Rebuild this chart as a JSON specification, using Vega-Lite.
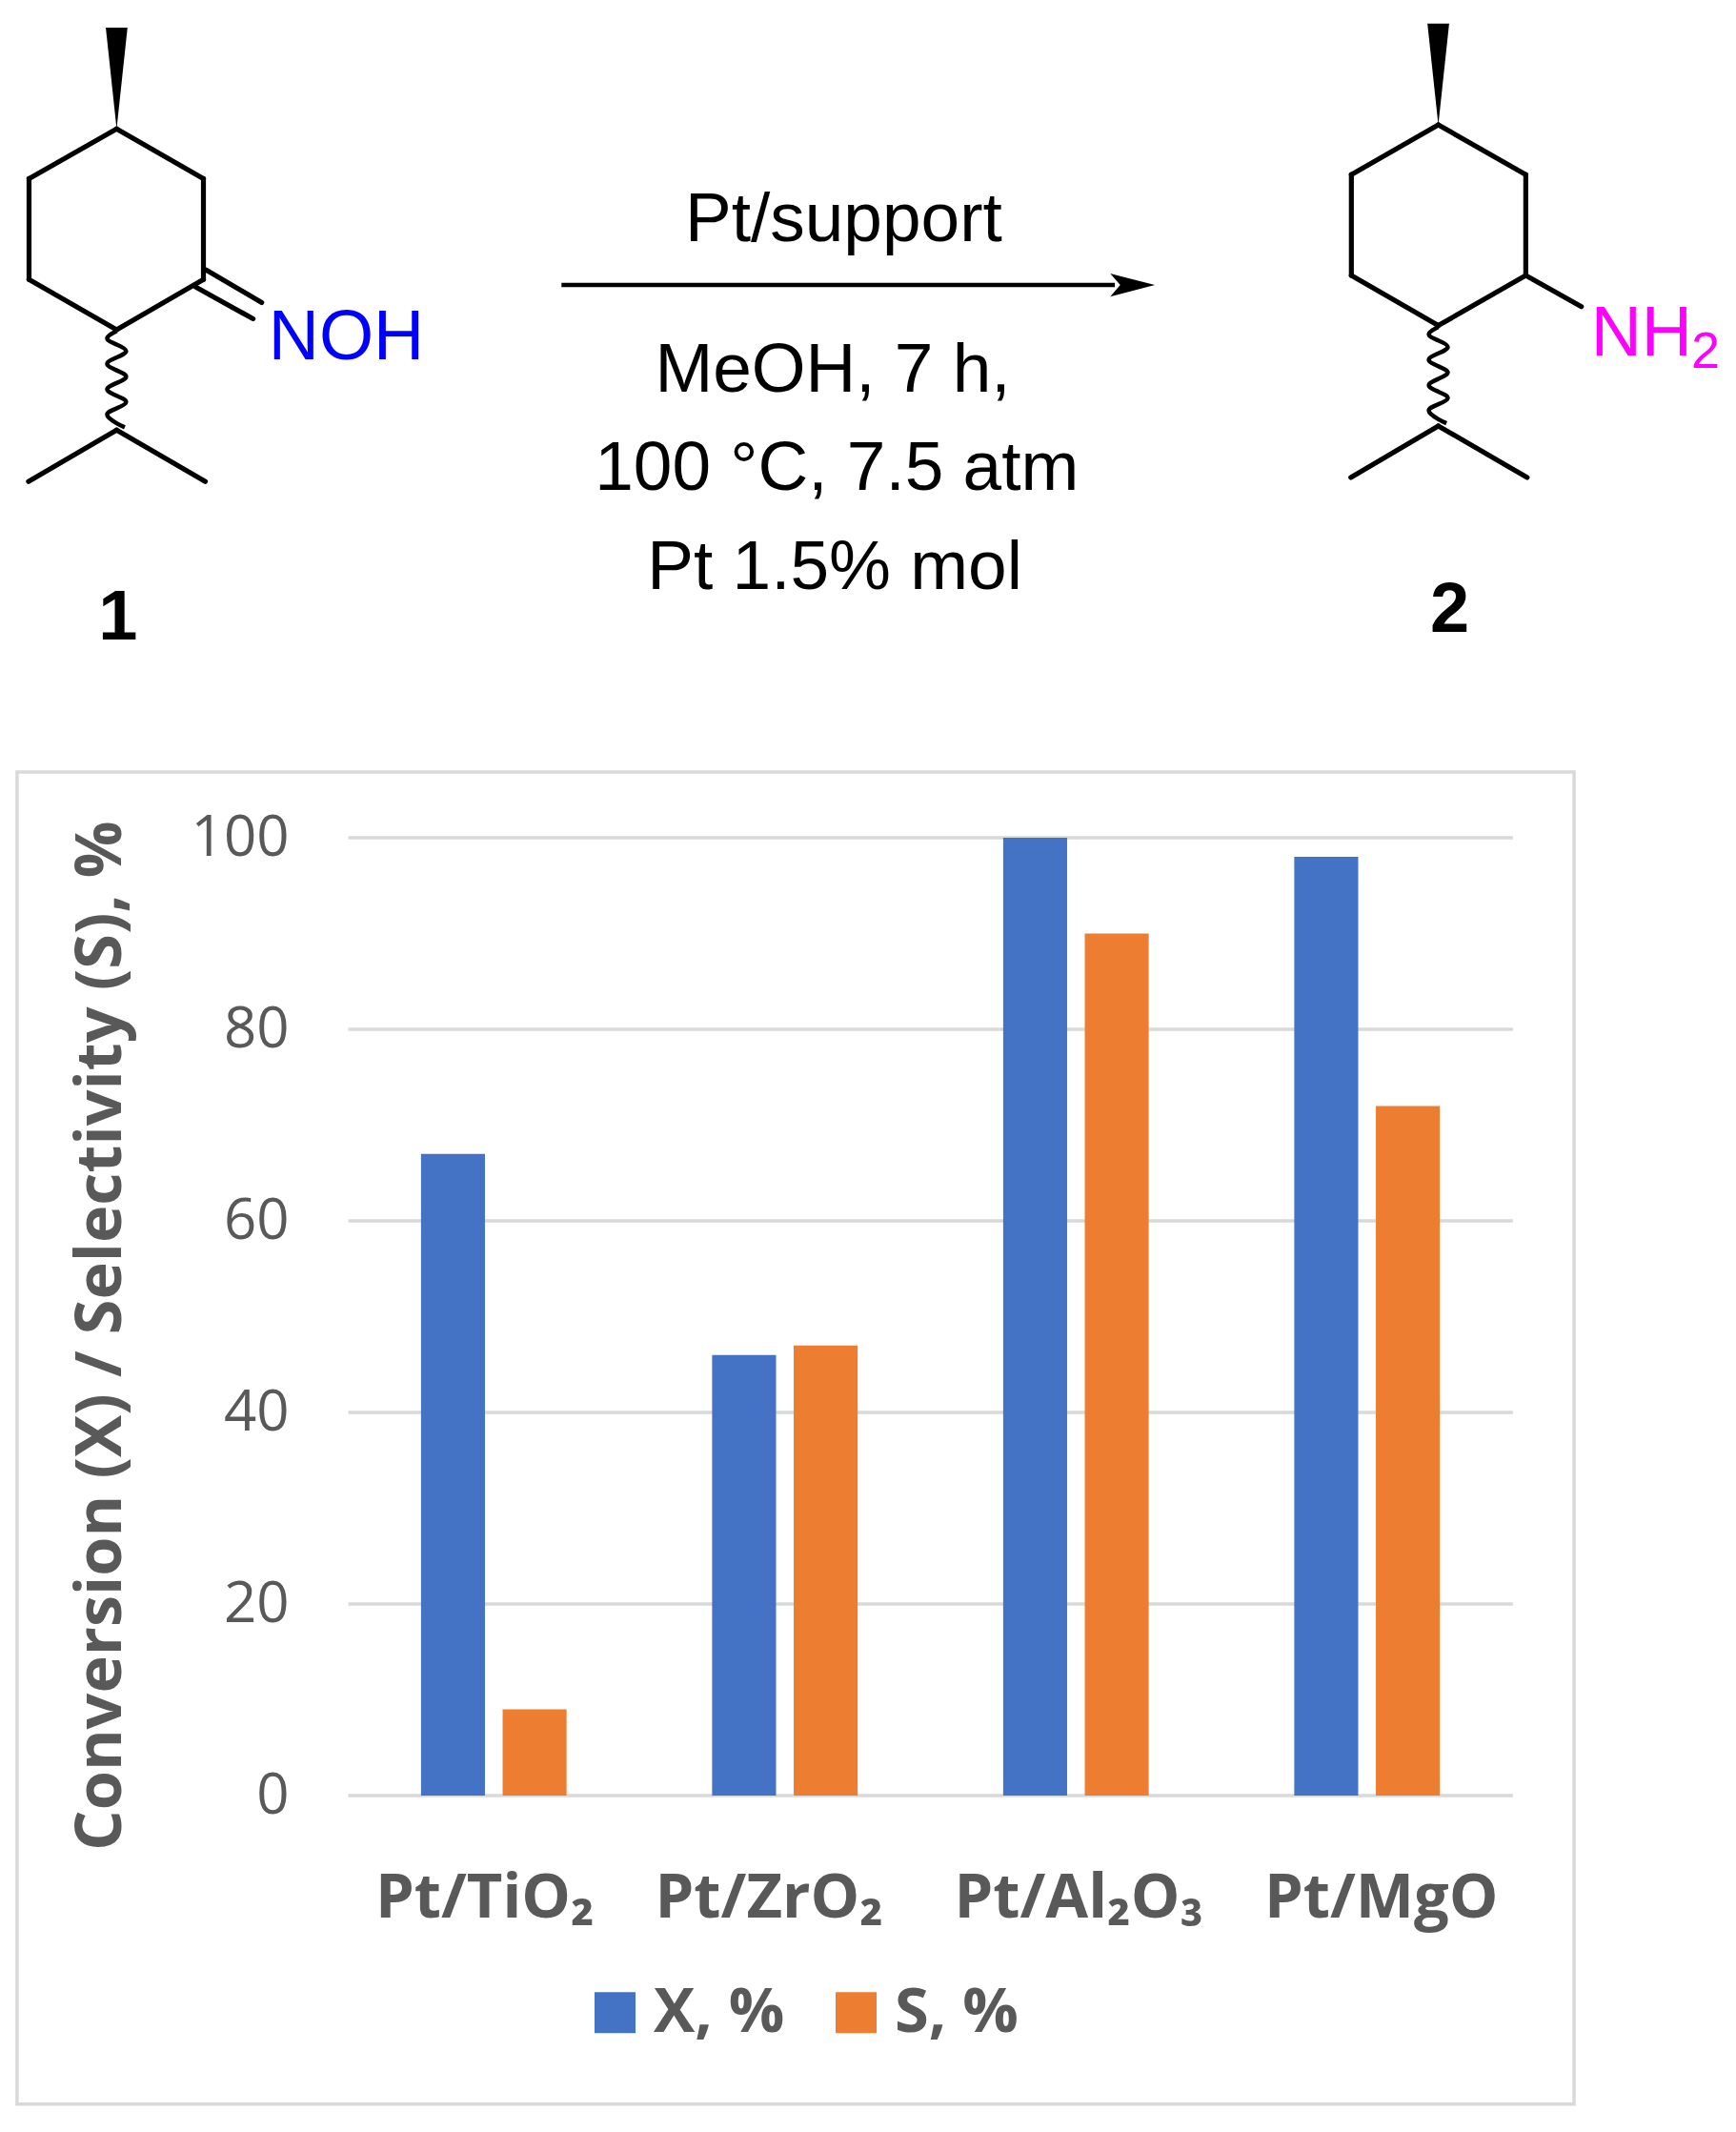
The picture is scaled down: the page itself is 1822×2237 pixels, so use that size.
{
  "$schema": "https://vega.github.io/schema/vega-lite/v6.json",
  "description": "Pt/support catalysed reduction of oxime 1 to amine 2, with conversion and selectivity per support.",
  "width": 1822,
  "height": 2237,
  "autosize": {"type": "fit", "contains": "padding"},
  "padding": 0,
  "background": "white",
  "config": {"view": {"stroke": null}},
  "datasets": {
    "bonds": [
      {"x": 86, "y": 95, "x2": 150, "y2": 131.7},
      {"x": 150, "y": 131.7, "x2": 150, "y2": 206},
      {"x": 150, "y": 206, "x2": 86, "y2": 243},
      {"x": 86, "y": 243, "x2": 21.4, "y2": 206},
      {"x": 21.4, "y": 206, "x2": 21.4, "y2": 131.7},
      {"x": 21.4, "y": 131.7, "x2": 86, "y2": 95},
      {"x": 152, "y": 199, "x2": 193, "y2": 223},
      {"x": 144.4, "y": 211.7, "x2": 186.6, "y2": 235},
      {"x": 86, "y": 317, "x2": 21, "y2": 355},
      {"x": 86, "y": 317, "x2": 151.4, "y2": 355},
      {"x": 1060.5, "y": 92, "x2": 1125, "y2": 128.7},
      {"x": 1125, "y": 128.7, "x2": 1125, "y2": 203},
      {"x": 1125, "y": 203, "x2": 1060.5, "y2": 240},
      {"x": 1060.5, "y": 240, "x2": 996.4, "y2": 203},
      {"x": 996.4, "y": 203, "x2": 996.4, "y2": 128.7},
      {"x": 996.4, "y": 128.7, "x2": 1060.5, "y2": 92},
      {"x": 1125, "y": 203, "x2": 1166, "y2": 226},
      {"x": 1060.5, "y": 314, "x2": 996, "y2": 352},
      {"x": 1060.5, "y": 314, "x2": 1126, "y2": 352}
    ],
    "waves": [
      {"bond": "a", "i": 0, "x": 86, "y": 244}, {"bond": "a", "i": 1, "x": 79, "y": 249.4}, {"bond": "a", "i": 2, "x": 86, "y": 254},
      {"bond": "a", "i": 3, "x": 93, "y": 258.8}, {"bond": "a", "i": 4, "x": 86, "y": 263.5}, {"bond": "a", "i": 5, "x": 79, "y": 268.2},
      {"bond": "a", "i": 6, "x": 86, "y": 273}, {"bond": "a", "i": 7, "x": 93, "y": 277.6}, {"bond": "a", "i": 8, "x": 86, "y": 282.3},
      {"bond": "a", "i": 9, "x": 79, "y": 287}, {"bond": "a", "i": 10, "x": 86, "y": 291.7}, {"bond": "a", "i": 11, "x": 93, "y": 296.4},
      {"bond": "a", "i": 12, "x": 86, "y": 301}, {"bond": "a", "i": 13, "x": 79, "y": 305.8}, {"bond": "a", "i": 14, "x": 86, "y": 312},
      {"bond": "a", "i": 15, "x": 92, "y": 315},
      {"bond": "b", "i": 0, "x": 1060.5, "y": 241}, {"bond": "b", "i": 1, "x": 1053.5, "y": 246.4}, {"bond": "b", "i": 2, "x": 1060.5, "y": 251},
      {"bond": "b", "i": 3, "x": 1067.5, "y": 255.8}, {"bond": "b", "i": 4, "x": 1060.5, "y": 260.5}, {"bond": "b", "i": 5, "x": 1053.5, "y": 265.2},
      {"bond": "b", "i": 6, "x": 1060.5, "y": 270}, {"bond": "b", "i": 7, "x": 1067.5, "y": 274.6}, {"bond": "b", "i": 8, "x": 1060.5, "y": 279.3},
      {"bond": "b", "i": 9, "x": 1053.5, "y": 284}, {"bond": "b", "i": 10, "x": 1060.5, "y": 288.7}, {"bond": "b", "i": 11, "x": 1067.5, "y": 293.4},
      {"bond": "b", "i": 12, "x": 1060.5, "y": 298}, {"bond": "b", "i": 13, "x": 1053.5, "y": 302.8}, {"bond": "b", "i": 14, "x": 1060.5, "y": 309},
      {"bond": "b", "i": 15, "x": 1066.5, "y": 312}
    ],
    "solids": [
      {"shape": "wedge1", "x": 78, "y": 20.4, "y2": 20.4}, {"shape": "wedge1", "x": 86, "y": 20.4, "y2": 95}, {"shape": "wedge1", "x": 94, "y": 20.4, "y2": 20.4},
      {"shape": "wedge2", "x": 1052.5, "y": 17.4, "y2": 17.4}, {"shape": "wedge2", "x": 1060.5, "y": 17.4, "y2": 92}, {"shape": "wedge2", "x": 1068.5, "y": 17.4, "y2": 17.4},
      {"shape": "headA", "x": 818.6, "y": 201.6, "y2": 201.6}, {"shape": "headA", "x": 826, "y": 203.6, "y2": 210}, {"shape": "headA", "x": 851.5, "y": 210, "y2": 210},
      {"shape": "headB", "x": 818.6, "y": 218.7, "y2": 218.7}, {"shape": "headB", "x": 826, "y": 210, "y2": 216.7}, {"shape": "headB", "x": 851.5, "y": 210, "y2": 210}
    ],
    "gridlines": [
      {"value": 0, "x": 256.8, "x2": 1115.5}, {"value": 20, "x": 256.8, "x2": 1115.5}, {"value": 40, "x": 256.8, "x2": 1115.5},
      {"value": 60, "x": 256.8, "x2": 1115.5}, {"value": 80, "x": 256.8, "x2": 1115.5}, {"value": 100, "x": 256.8, "x2": 1115.5}
    ],
    "results": [
      {"support": "Pt/TiO₂", "series": "X, %", "value": 67},
      {"support": "Pt/TiO₂", "series": "S, %", "value": 9},
      {"support": "Pt/ZrO₂", "series": "X, %", "value": 46},
      {"support": "Pt/ZrO₂", "series": "S, %", "value": 47},
      {"support": "Pt/Al₂O₃", "series": "X, %", "value": 100},
      {"support": "Pt/Al₂O₃", "series": "S, %", "value": 90},
      {"support": "Pt/MgO", "series": "X, %", "value": 98},
      {"support": "Pt/MgO", "series": "S, %", "value": 72}
    ]
  },
  "layer": [
    {
      "encoding": {
        "x": {"field": "x", "type": "quantitative", "axis": null, "scale": {"domain": [0, 1280], "range": [0, 1822], "nice": false, "zero": false}},
        "y": {"field": "y", "type": "quantitative", "axis": null, "scale": {"domain": [0, 1571.6], "range": [0, 2237], "nice": false, "zero": false}}
      },
      "layer": [
        {
          "data": {"values": [{"x": 12.6, "y": 569, "x2": 1160.6, "y2": 1551}]},
          "mark": {"type": "rect", "fill": "transparent", "stroke": "#d9d9d9", "strokeWidth": 3.5},
          "encoding": {"x2": {"field": "x2"}, "y2": {"field": "y2"}}
        },
        {
          "data": {"name": "bonds"},
          "mark": {"type": "rule", "color": "black", "strokeWidth": 5.2, "strokeCap": "round"},
          "encoding": {"x2": {"field": "x2"}, "y2": {"field": "y2"}}
        },
        {
          "data": {"name": "waves"},
          "mark": {"type": "line", "color": "black", "strokeWidth": 4.5, "interpolate": "natural"},
          "encoding": {"detail": {"field": "bond"}, "order": {"field": "i"}}
        },
        {
          "data": {"name": "solids"},
          "mark": {"type": "area", "color": "black", "orient": "vertical"},
          "encoding": {"y2": {"field": "y2"}, "detail": {"field": "shape"}}
        },
        {
          "data": {"values": [{"x": 414, "y": 210, "x2": 822}]},
          "mark": {"type": "rule", "color": "black", "strokeWidth": 4.5},
          "encoding": {"x2": {"field": "x2"}}
        },
        {
          "data": {"values": [
            {"x": 622, "y": 178, "label": "Pt/support"},
            {"x": 614, "y": 289, "label": "MeOH, 7 h,"},
            {"x": 617, "y": 361, "label": "100 °C, 7.5 atm"},
            {"x": 615.5, "y": 434, "label": "Pt 1.5% mol"}
          ]},
          "mark": {"type": "text", "font": "Liberation Sans", "fontSize": 73, "color": "black", "align": "center", "baseline": "alphabetic"},
          "encoding": {"text": {"field": "label"}}
        },
        {
          "data": {"values": [{"x": 87, "y": 471.4, "label": "1"}, {"x": 1069, "y": 466, "label": "2"}]},
          "mark": {"type": "text", "font": "Liberation Sans", "fontWeight": "bold", "fontSize": 74, "color": "black", "align": "center", "baseline": "alphabetic"},
          "encoding": {"text": {"field": "label"}}
        },
        {
          "data": {"values": [{"x": 198, "y": 265, "label": "NOH"}]},
          "mark": {"type": "text", "font": "Liberation Sans", "fontSize": 73.5, "color": "#0000ff", "align": "left", "baseline": "alphabetic"},
          "encoding": {"text": {"field": "label"}}
        },
        {
          "data": {"values": [{"x": 1173, "y": 262, "label": "NH"}]},
          "mark": {"type": "text", "font": "Liberation Sans", "fontSize": 73.5, "color": "#ff00ff", "align": "left", "baseline": "alphabetic"},
          "encoding": {"text": {"field": "label"}}
        },
        {
          "data": {"values": [{"x": 1247, "y": 271, "label": "2"}]},
          "mark": {"type": "text", "font": "Liberation Sans", "fontSize": 54, "color": "#ff00ff", "align": "left", "baseline": "alphabetic"},
          "encoding": {"text": {"field": "label"}}
        }
      ]
    },
    {
      "layer": [
        {
          "data": {"name": "gridlines"},
          "mark": {"type": "rule", "color": "#d9d9d9", "strokeWidth": 3.5},
          "encoding": {
            "x": {"field": "x", "type": "quantitative", "axis": null, "scale": {"domain": [0, 1280], "range": [0, 1822], "nice": false, "zero": false}},
            "x2": {"field": "x2"},
            "y": {
              "field": "value",
              "type": "quantitative",
              "scale": {"domain": [0, 100], "range": [1884, 879], "nice": false}
            }
          }
        },
        {
          "data": {"name": "results"},
          "mark": {"type": "bar"},
          "encoding": {
            "x": {
              "field": "support",
              "type": "nominal",
              "sort": null,
              "title": null,
              "scale": {"range": [365.5, 1587.5], "paddingInner": 0.5, "paddingOuter": 0.25},
              "axis": {
                "orient": "bottom",
                "offset": -226,
                "domain": false,
                "ticks": false,
                "labelAngle": 0,
                "labelPadding": 0,
                "labelBaseline": "alphabetic",
                "labelLimit": 500,
                "labelOffset": {"expr": "datum.value == 'Pt/TiO₂' ? -9.5 : datum.value == 'Pt/ZrO₂' ? -16.5 : datum.value == 'Pt/Al₂O₃' ? 3 : 15"},
                "labelFont": "Open Sans",
                "labelFontWeight": "bold",
                "labelFontSize": 65,
                "labelColor": "#595959"
              }
            },
            "xOffset": {
              "field": "series",
              "scale": {"domain": ["X, %", "S, %"], "paddingInner": 0.2167, "paddingOuter": 0}
            },
            "y": {
              "field": "value",
              "type": "quantitative",
              "stack": null,
              "title": "Conversion (X) / Selectivity (S), %",
              "scale": {"domain": [0, 100], "range": [1884, 879], "nice": false},
              "axis": {
                "orient": "left",
                "offset": -303,
                "values": [0, 20, 40, 60, 80, 100],
                "domain": false,
                "ticks": false,
                "grid": false,
                "labelPadding": 0,
                "labelFont": "Open Sans",
                "labelFontSize": 60,
                "labelColor": "#595959",
                "titleFont": "Open Sans",
                "titleFontWeight": "bold",
                "titleFontSize": 66.5,
                "titleColor": "#595959",
                "titleX": -197,
                "titleY": 1401,
                "titleAlign": "center",
                "titleBaseline": "middle",
                "titleLimit": 1500
              }
            },
            "color": {
              "field": "series",
              "type": "nominal",
              "scale": {"domain": ["X, %", "S, %"], "range": ["#4472C4", "#ED7D31"]},
              "legend": {
                "title": null,
                "orient": "none",
                "direction": "horizontal",
                "columns": 2,
                "legendX": 613,
                "legendY": 2079,
                "symbolType": "square",
                "symbolSize": 1850,
                "symbolStrokeWidth": 0,
                "labelFont": "Open Sans",
                "labelFontWeight": "bold",
                "labelFontSize": 65,
                "labelColor": "#595959",
                "labelOffset": 8,
                "columnPadding": 42
              }
            }
          }
        }
      ],
      "resolve": {"scale": {"x": "independent"}, "axis": {"x": "independent"}}
    }
  ],
  "resolve": {"scale": {"x": "independent", "y": "independent"}, "axis": {"x": "independent", "y": "independent"}}
}
